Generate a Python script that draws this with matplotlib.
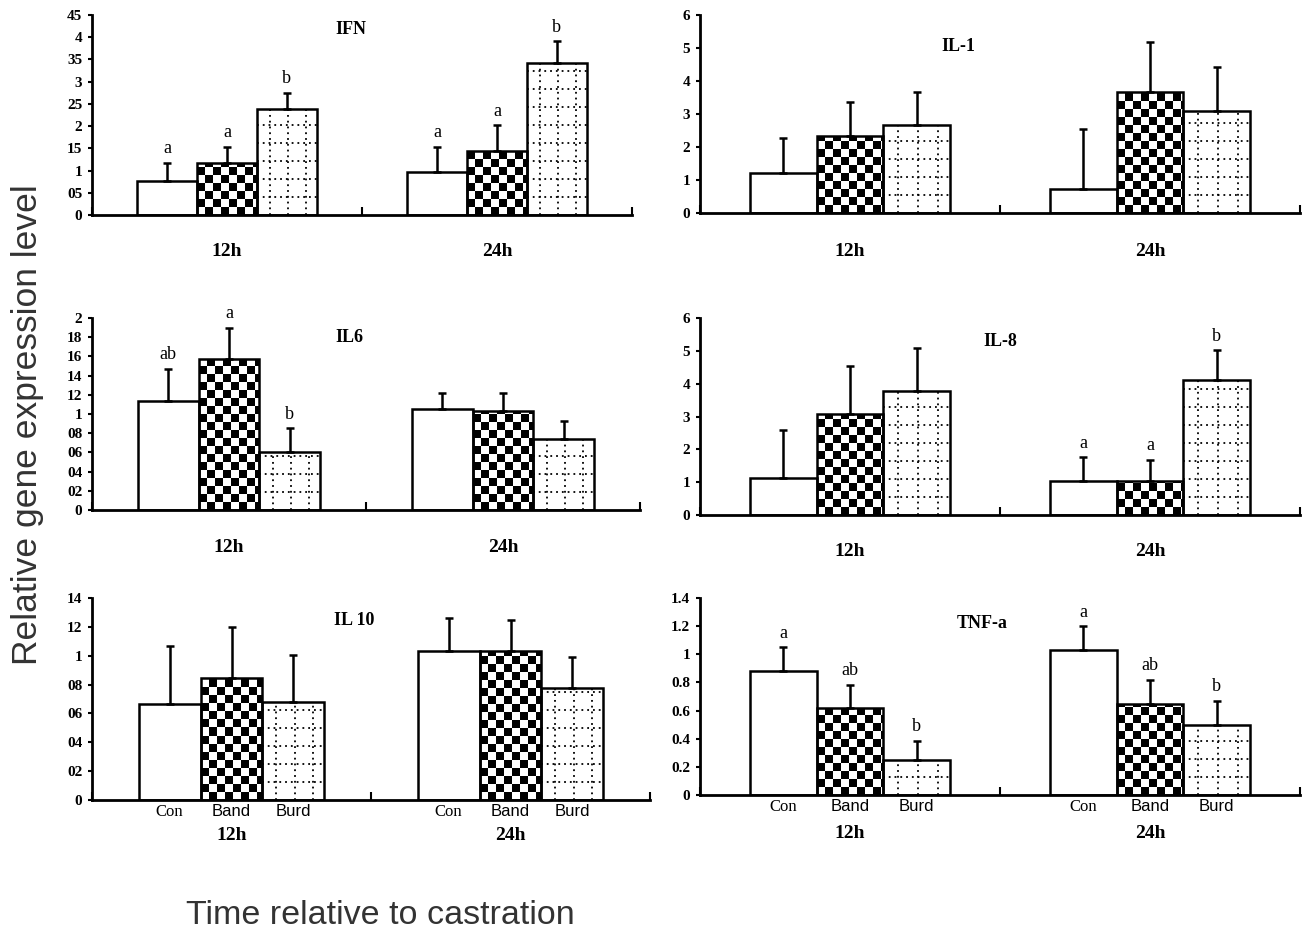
import numpy as np
import matplotlib.pyplot as plt
from matplotlib.patches import Rectangle

groups = ["12h", "24h"]
treatments = ["Con", "Band", "Burd"]

# means and upper error, [12h, 24h] x [Con, Band, Burd]
ifn_mean = [[0.77, 1.18, 2.38], [0.96, 1.44, 3.42]]
ifn_err = [[0.40, 0.36, 0.37], [0.58, 0.58, 0.49]]
ifn_sig = [["a", "a", "b"], ["a", "a", "b"]]
ifn_ticks = ["0", "05", "1", "15", "2", "25", "3", "35", "4", "45"]

il1_mean = [[1.21, 2.33, 2.68], [0.73, 3.66, 3.10]]
il1_err = [[1.06, 1.04, 0.98], [1.81, 1.51, 1.31]]
il1_sig = [["", "", ""], ["", "", ""]]
il1_ticks = ["0", "1", "2", "3", "4", "5", "6"]

il6_mean = [[1.14, 1.57, 0.60], [1.05, 1.03, 0.74]]
il6_err = [[0.33, 0.33, 0.25], [0.17, 0.19, 0.19]]
il6_sig = [["ab", "a", "b"], ["", "", ""]]
il6_ticks = ["0", "02", "04", "06", "08", "1", "12", "14", "16", "18", "2"]

il8_mean = [[1.13, 3.07, 3.78], [1.05, 1.05, 4.12]]
il8_err = [[1.46, 1.47, 1.32], [0.71, 0.64, 0.90]]
il8_sig = [["", "", ""], ["a", "a", "b"]]
il8_ticks = ["0", "1", "2", "3", "4", "5", "6"]

il10_mean = [[0.665, 0.846, 0.68], [1.036, 1.036, 0.778]]
il10_err = [[0.405, 0.354, 0.325], [0.228, 0.214, 0.212]]
il10_sig = [["", "", ""], ["", "", ""]]
il10_ticks = ["0", "02", "04", "06", "08", "1", "12", "14"]

tnf_mean = [[0.88, 0.617, 0.25], [1.03, 0.65, 0.50]]
tnf_err = [[0.17, 0.168, 0.134], [0.17, 0.167, 0.168]]
tnf_sig = [["a", "ab", "b"], ["a", "ab", "b"]]
tnf_ticks = ["0", "0.2", "0.4", "0.6", "0.8", "1", "1.2", "1.4"]

W, H = 1303, 936
fig = plt.figure(figsize=(W / 100, H / 100), dpi=100)
fig.patch.set_facecolor("white")

SERIF = ["Liberation Serif", "DejaVu Serif"]
SANS = ["Liberation Sans", "DejaVu Sans"]


def add_ax(x0, x1, ytop, ybot):
    return fig.add_axes([x0 / W, 1 - ybot / H, (x1 - x0) / W, (ybot - ytop) / H])


def panel(ax, title, tx, ty, mean, err, sig, ticks, step, lab_gap, show_treat=False):
    ymax = step * (len(ticks) - 1)
    ax.set_xlim(0, 2)
    ax.set_ylim(0, ymax)
    bbox = ax.get_position()
    px_x = bbox.width * W / 2.0
    px_y = bbox.height * H / ymax
    cell = 8.0
    bw = 0.222
    for g in range(2):
        start = g + 0.5 - 1.5 * bw
        for t in range(3):
            x0 = start + t * bw
            h = mean[g][t]
            # white base, pattern, then outline on top
            ax.add_patch(Rectangle((x0, 0), bw, h, facecolor="white", edgecolor="none", zorder=1))
            if t == 1:
                nc = int(np.ceil(bw * px_x / cell))
                nr = int(np.ceil(h * px_y / cell))
                board = np.indices((nr, nc)).sum(axis=0) % 2
                im = ax.imshow(board, cmap="gray_r", vmin=0, vmax=1, origin="lower",
                               interpolation="nearest", aspect="auto", zorder=2,
                               extent=(x0, x0 + nc * cell / px_x, 0, nr * cell / px_y))
                im.set_clip_path(Rectangle((x0, 0), bw, h, transform=ax.transData))
            if t == 2:
                for f in (0.22, 0.52, 0.82):
                    ax.vlines(x0 + f * bw, 0, h, colors="black", linewidth=1.3,
                              linestyles=(0, (1, 2.2)), zorder=2)
                dy = 18 / px_y
                yy = np.arange(dy, h, dy)
                ax.hlines(yy, x0, x0 + bw, colors="black", linewidth=1.3,
                          linestyles=(0, (1, 2.2)), zorder=2)
            ax.add_patch(Rectangle((x0, 0), bw, h, facecolor="none", edgecolor="black",
                                   linewidth=1.8, zorder=3))
            xc = x0 + bw / 2
            ax.errorbar(xc, h, yerr=[[0], [err[g][t]]], fmt="none", ecolor="black",
                        elinewidth=1.8, capsize=3, capthick=1.8, zorder=4)
            if sig[g][t]:
                ax.annotate(sig[g][t], (xc, h + err[g][t]), xytext=(0, 4),
                            textcoords="offset points", ha="center", va="bottom",
                            fontsize=13, family=SERIF)
            if show_treat:
                ax.annotate(treatments[t], (xc, 0), xytext=(0, -3), textcoords="offset points",
                            ha="center", va="top", fontsize=12,
                            family=SERIF if t == 0 else SANS)
        ax.annotate(groups[g], (g + 0.5, 0), xytext=(0, -lab_gap), textcoords="offset pixels",
                    ha="center", va="center", fontsize=14, fontweight="bold", family=SERIF)
    ax.text(tx, ty, title, transform=ax.transAxes, ha="center", va="center",
            fontsize=13, fontweight="bold", family=SERIF)
    ax.set_yticks(np.arange(len(ticks)) * step)
    ax.set_yticklabels(ticks, fontsize=11, fontweight="bold", family=SERIF)
    ax.set_xticks([0, 1, 2])
    ax.set_xticklabels([])
    ax.tick_params(axis="y", direction="out", length=3, width=1.5, pad=4)
    ax.tick_params(axis="x", direction="in", length=6, width=1.5)
    for s in ("top", "right"):
        ax.spines[s].set_visible(False)
    for s in ("left", "bottom"):
        ax.spines[s].set_linewidth(2)
    ax.set_facecolor("none")


ax1 = add_ax(92, 632, 15, 215)
panel(ax1, "IFN", 0.48, 0.93, ifn_mean, ifn_err, ifn_sig, ifn_ticks, 0.5, 36)
ax2 = add_ax(700, 1300, 15, 213)
panel(ax2, "IL-1", 0.43, 0.84, il1_mean, il1_err, il1_sig, il1_ticks, 1, 38)
ax3 = add_ax(92, 640, 318, 510)
panel(ax3, "IL6", 0.47, 0.9, il6_mean, il6_err, il6_sig, il6_ticks, 0.2, 38)
ax4 = add_ax(700, 1300, 318, 515)
panel(ax4, "IL-8", 0.5, 0.88, il8_mean, il8_err, il8_sig, il8_ticks, 1, 36)
ax5 = add_ax(92, 650, 598, 800)
panel(ax5, "IL 10", 0.47, 0.89, il10_mean, il10_err, il10_sig, il10_ticks, 0.2, 35, True)
ax6 = add_ax(700, 1300, 598, 795)
panel(ax6, "TNF-a", 0.47, 0.87, tnf_mean, tnf_err, tnf_sig, tnf_ticks, 0.2, 38, True)

fig.text(28 / W, 1 - 425 / H, "Relative gene expression level", rotation=90,
         ha="center", va="center", fontsize=25.5, family=SANS, color="#333333")
fig.text(380 / W, 1 - 916 / H, "Time relative to castration", ha="center", va="center",
         fontsize=24.5, family=SANS, color="#333333")

fig.savefig("out.png", dpi=100, facecolor="white")
